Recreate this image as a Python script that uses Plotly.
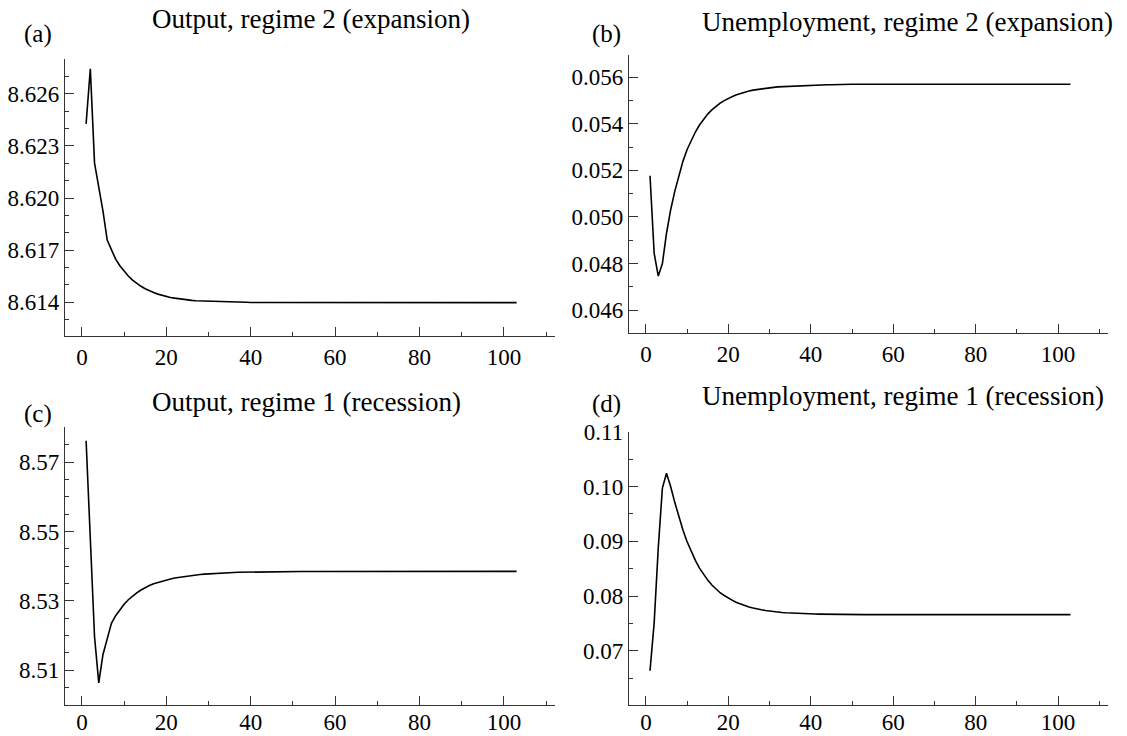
import plotly.graph_objects as go

W, H = 1127, 736

periods = list(range(1, 104))

output_expansion = [
    8.62427, 8.62744, 8.62201, 8.62060, 8.61925, 8.61758, 8.61698, 8.61648, 8.61610, 8.61578,
    8.61551, 8.61528, 8.61509, 8.61492, 8.61478, 8.61466, 8.61456, 8.61447, 8.61440, 8.61434,
    8.61428, 8.61424, 8.61420, 8.61417, 8.61414, 8.61411, 8.61409, 8.61408, 8.61406, 8.61405,
    8.61404, 8.61403, 8.61402, 8.61402, 8.61401, 8.61401, 8.61400, 8.61400, 8.61400, 8.61399,
    8.61399, 8.61399, 8.61398, 8.61398, 8.61398, 8.61398, 8.61398, 8.61398, 8.61398, 8.61398,
    8.61398, 8.61398, 8.61398, 8.61398, 8.61398, 8.61398, 8.61398, 8.61398, 8.61398, 8.61398,
    8.61398, 8.61398, 8.61398, 8.61398, 8.61398, 8.61398, 8.61398, 8.61398, 8.61398, 8.61398,
    8.61398, 8.61398, 8.61398, 8.61398, 8.61398, 8.61398, 8.61398, 8.61398, 8.61398, 8.61398,
    8.61398, 8.61398, 8.61398, 8.61398, 8.61398, 8.61398, 8.61398, 8.61398, 8.61398, 8.61398,
    8.61398, 8.61398, 8.61398, 8.61398, 8.61398, 8.61398, 8.61398, 8.61398, 8.61398, 8.61398,
    8.61398, 8.61398, 8.61398,
]

unemployment_expansion = [
    0.05177, 0.04844, 0.04746, 0.04800, 0.04930, 0.05030, 0.05110, 0.05180, 0.05240, 0.05290,
    0.05330, 0.05365, 0.05395, 0.05420, 0.05442, 0.05460, 0.05476, 0.05489, 0.05500, 0.05510,
    0.05518, 0.05525, 0.05531, 0.05536, 0.05541, 0.05545, 0.05548, 0.05551, 0.05553, 0.05555,
    0.05557, 0.05559, 0.05560, 0.05561, 0.05562, 0.05563, 0.05564, 0.05565, 0.05566, 0.05566,
    0.05567, 0.05567, 0.05568, 0.05568, 0.05568, 0.05569, 0.05569, 0.05569, 0.05569, 0.05570,
    0.05570, 0.05570, 0.05570, 0.05570, 0.05570, 0.05570, 0.05570, 0.05570, 0.05570, 0.05570,
    0.05570, 0.05570, 0.05570, 0.05570, 0.05570, 0.05570, 0.05570, 0.05570, 0.05570, 0.05570,
    0.05570, 0.05570, 0.05570, 0.05570, 0.05570, 0.05570, 0.05570, 0.05570, 0.05570, 0.05570,
    0.05570, 0.05570, 0.05570, 0.05570, 0.05570, 0.05570, 0.05570, 0.05570, 0.05570, 0.05570,
    0.05570, 0.05570, 0.05570, 0.05570, 0.05570, 0.05570, 0.05570, 0.05570, 0.05570, 0.05570,
    0.05570, 0.05570, 0.05570,
]

output_recession = [
    8.5762, 8.5465, 8.5196, 8.5063, 8.5145, 8.5190, 8.5235, 8.5257, 8.5275, 8.5290,
    8.5303, 8.5314, 8.5323, 8.5331, 8.5338, 8.5344, 8.5349, 8.5353, 8.5357, 8.5360,
    8.5363, 8.5366, 8.5368, 8.5370, 8.5372, 8.5374, 8.5375, 8.5376, 8.5377, 8.5378,
    8.5379, 8.53797, 8.53803, 8.53809, 8.53814, 8.53818, 8.53822, 8.53825, 8.53828, 8.53831,
    8.53833, 8.53835, 8.53837, 8.53839, 8.53840, 8.53841, 8.53842, 8.53843, 8.53844, 8.53845,
    8.53846, 8.53846, 8.53847, 8.53847, 8.53848, 8.53848, 8.53848, 8.53849, 8.53849, 8.53849,
    8.5385, 8.5385, 8.5385, 8.5385, 8.5385, 8.5385, 8.5385, 8.5385, 8.5385, 8.5385,
    8.5385, 8.5385, 8.5385, 8.5385, 8.5385, 8.5385, 8.5385, 8.5385, 8.5385, 8.5385,
    8.5385, 8.5385, 8.5385, 8.5385, 8.5385, 8.5385, 8.5385, 8.5385, 8.5385, 8.5385,
    8.5385, 8.5385, 8.5385, 8.5385, 8.5385, 8.5385, 8.5385, 8.5385, 8.5385, 8.5385,
    8.5385, 8.5385, 8.5385,
]

unemployment_recession = [
    0.06635, 0.07505, 0.08880, 0.09970, 0.10240, 0.10000, 0.09710, 0.09440, 0.09200, 0.08990,
    0.08810, 0.08650, 0.08510, 0.08390, 0.08290, 0.08200, 0.08130, 0.08060, 0.08010, 0.07960,
    0.07920, 0.07880, 0.07850, 0.07820, 0.07800, 0.07780, 0.07760, 0.07748, 0.07735, 0.07724,
    0.07715, 0.07707, 0.07700, 0.07694, 0.07689, 0.07685, 0.07681, 0.07678, 0.07675, 0.07673,
    0.07671, 0.07670, 0.07668, 0.07667, 0.07666, 0.07665, 0.07664, 0.07664, 0.07663, 0.07663,
    0.07662, 0.07662, 0.07661, 0.07661, 0.07661, 0.07660, 0.07660, 0.07660, 0.07660, 0.07660,
    0.07660, 0.07660, 0.07660, 0.07660, 0.07660, 0.07660, 0.07660, 0.07660, 0.07660, 0.07660,
    0.07660, 0.07660, 0.07660, 0.07660, 0.07660, 0.07660, 0.07660, 0.07660, 0.07660, 0.07660,
    0.07660, 0.07660, 0.07660, 0.07660, 0.07660, 0.07660, 0.07660, 0.07660, 0.07660, 0.07660,
    0.07660, 0.07660, 0.07660, 0.07660, 0.07660, 0.07660, 0.07660, 0.07660, 0.07660, 0.07660,
    0.07660, 0.07660, 0.07660,
]

titles = ["Output, regime 2 (expansion)", "Unemployment, regime 2 (expansion)",
          "Output, regime 1 (recession)", "Unemployment, regime 1 (recession)"]
panel_labels = ["(a)", "(b)", "(c)", "(d)"]

x_ticks = [0, 20, 40, 60, 80, 100]
y_ticks_a = [8.614, 8.617, 8.620, 8.623, 8.626]
y_ticks_b = [0.046, 0.048, 0.050, 0.052, 0.054, 0.056]
y_ticks_c = [8.51, 8.53, 8.55, 8.57]
y_ticks_d = [0.07, 0.08, 0.09, 0.10, 0.11]

FONT = "Liberation Serif, Times New Roman, serif"
AX = "#333333"

def px_x(p):
    return p / W

def px_y(p):
    return 1 - p / H

# pixel boxes (left, right, top, bottom)
boxes = [(65, 555, 59, 336), (629, 1108, 55, 333.3), (65, 555, 427.3, 705), (629, 1108, 431.7, 705)]
series = [output_expansion, unemployment_expansion, output_recession, unemployment_recession]
yranges = [[8.61206, 8.62800], [0.04500, 0.05696], [8.4999, 8.5801], [0.0601, 0.1100]]
yticks = [y_ticks_a, y_ticks_b, y_ticks_c, y_ticks_d]
yfmt = [".3f", ".3f", ".2f", ".2f"]
yminor = [0.001, 0.001, 0.005, 0.005]
xranges = [[-4.0, 112.1], [-4.1, 112.1], [-4.0, 112.1], [-4.1, 112.1]]
xstandoff = [0, 0, -4, -4]

fig = go.Figure()
layout = dict(template="none", width=W, height=H,
              margin=dict(l=0, r=0, t=0, b=0, pad=0, autoexpand=False),
              paper_bgcolor="white", plot_bgcolor="white", showlegend=False,
              font=dict(family=FONT, size=23, color="black"))

for i in range(4):
    n = "" if i == 0 else str(i + 1)
    l, r, t, b = boxes[i]
    fig.add_trace(go.Scatter(x=periods, y=series[i], mode="lines",
                             line=dict(color="black", width=1.6),
                             xaxis="x" + n, yaxis="y" + n, hoverinfo="skip"))
    layout["xaxis" + n] = dict(domain=[px_x(l), px_x(r)], anchor="y" + n, range=xranges[i],
                               automargin=False, ticklabelstandoff=xstandoff[i],
                               showgrid=False, zeroline=False, showline=True, linecolor=AX, linewidth=1.3,
                               ticks="inside", ticklen=9, tickwidth=1.3, tickcolor=AX,
                               tickvals=x_ticks, ticktext=[str(v) for v in x_ticks],
                               minor=dict(ticks="inside", ticklen=4, tickwidth=1.2, tickcolor=AX,
                                          tick0=0, dtick=10, showgrid=False),
                               tickfont=dict(family=FONT, size=23, color="black"))
    lo, hi = yranges[i]
    layout["yaxis" + n] = dict(domain=[px_y(b), px_y(t)], anchor="x" + n, range=[lo, hi],
                               automargin=False,
                               showgrid=False, zeroline=False, showline=True, linecolor=AX, linewidth=1.3,
                               ticks="inside", ticklen=9, tickwidth=1.3, tickcolor=AX,
                               tickvals=yticks[i], tickformat=yfmt[i],
                               minor=dict(ticks="inside", ticklen=4, tickwidth=1.2, tickcolor=AX,
                                          tick0=yticks[i][0], dtick=yminor[i], showgrid=False),
                               tickfont=dict(family=FONT, size=23, color="black"))

title_pos = [(150, 19), (700, 22), (150, 402), (700, 396)]
label_pos = [(22, 34), (590, 34), (22, 414), (590, 404)]
annotations = []
for i in range(4):
    tx, ty = title_pos[i]
    annotations.append(dict(text=titles[i], x=px_x(tx), y=px_y(ty), xref="paper", yref="paper",
                            xanchor="left", yanchor="middle", showarrow=False,
                            font=dict(family=FONT, size=27, color="black")))
    lx, ly = label_pos[i]
    annotations.append(dict(text=panel_labels[i], x=px_x(lx), y=px_y(ly), xref="paper", yref="paper",
                            xanchor="left", yanchor="middle", showarrow=False,
                            font=dict(family=FONT, size=25, color="black")))
layout["annotations"] = annotations
fig.update_layout(**layout)

fig.write_html("out.html")
